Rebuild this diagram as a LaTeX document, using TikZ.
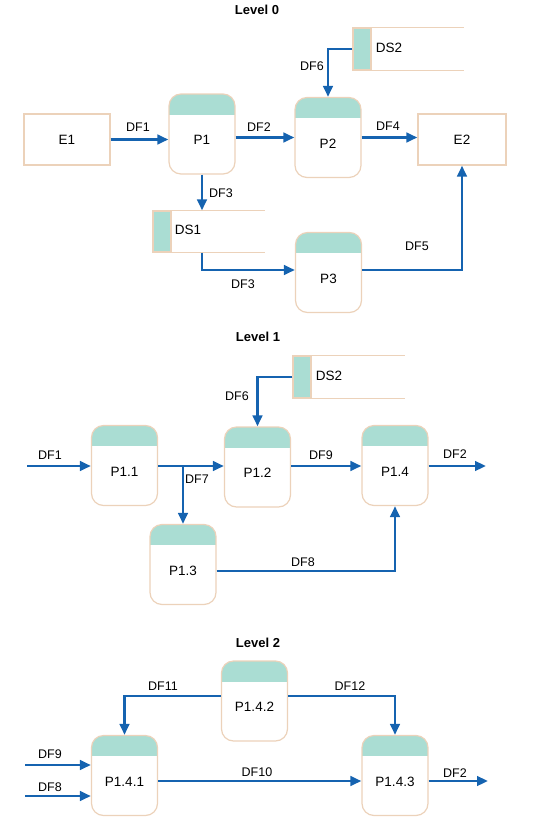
\documentclass[tikz,border=0pt]{standalone}
\usepackage{fontspec}
\setmainfont{Liberation Sans}
\usetikzlibrary{arrows.meta}
\definecolor{headc}{HTML}{AADDD3}
\definecolor{bordc}{HTML}{ECD2BA}
\definecolor{flowc}{HTML}{1563B0}
\tikzset{
  procbox/.style={draw=bordc, line width=1.2pt, rounded corners=12pt,
    minimum width=66pt, minimum height=80pt, inner sep=0pt, fill=white,
    path picture={\fill[headc, sharp corners] (path picture bounding box.north west) rectangle ([yshift=-20.5pt]path picture bounding box.north east);}},
  ptext/.style={font=\fontsize{13.5}{15}\selectfont, inner sep=0pt},
  lbl/.style={font=\fontsize{12.5}{14}\selectfont, inner sep=0pt},
  ttl/.style={font=\fontsize{13}{15}\selectfont\bfseries, inner sep=0pt},
  ent/.style={draw=bordc, line width=1.2pt, minimum height=51pt, inner sep=0pt, font=\fontsize{13.5}{15}\selectfont},
  dsbox/.style={draw=bordc, fill=headc, line width=1.2pt, minimum width=18pt, inner sep=0pt},
  bord/.style={draw=bordc, line width=1.2pt},
  flow/.style={draw=flowc, line width=2.7pt, -{Triangle[length=11pt,width=9.5pt]}}
}
\newcommand\procn[4]{\node[procbox] (#1) at (#2,#3) {};
  \node[ptext] (#1t) at ([yshift=-6pt]#1.center) {#4};}
\begin{document}
\begin{tikzpicture}[x=1pt,y=-1pt]
\useasboundingbox (0,0) rectangle (541,817);
% ---------------- Level 0
\node[ttl] (t0) at (257,10) {Level 0};
\node[ent, minimum width=86pt] (e1) at (67,139.5) {E1};
\node[ent, minimum width=88pt] (e2) at (462,139.5) {E2};
\procn{p1}{202}{134}{P1}
\procn{p2}{328}{137.5}{P2}
\procn{p3}{328.5}{272.5}{P3}
% DS2
\node[dsbox, minimum height=42pt] (ds2a) at (362,49) {};
\draw[bord] (ds2a.north east) -- +(92,0) (ds2a.south east) -- +(92,0);
\node[ptext] (ds2t) at (389,48) {DS2};
% DS1
\node[dsbox, minimum height=41pt] (ds1a) at (162,231.5) {};
\draw[bord] (ds1a.north east) -- +(93,0) (ds1a.south east) -- +(93,0);
\node[ptext] (ds1t) at (188,230) {DS1};
% flows
\draw[flow] (e1.east) -- (e1.east -| p1.west);
\draw[flow] (p2.west -| p1.east) -- (p2.west);
\draw[flow] (p2.east) -- (p2.east -| e2.west);
\draw[flow] (ds2a.west) -| (p2.north);
\draw[flow] (p1.south) -- (p1.south |- ds1a.north);
\draw[flow] (p1.south |- ds1a.south) |- ([yshift=2.5pt]p3.west);
\draw[flow] ([yshift=2.5pt]p3.east) -| (e2.south);
\node[lbl] (l01) at (138,127) {DF1};
\node[lbl] (l02) at (259,127) {DF2};
\node[lbl] (l04) at (388,126) {DF4};
\node[lbl] (l06) at (312,66) {DF6};
\node[lbl] (l03) at (221,193) {DF3};
\node[lbl] (l03b) at (243,284) {DF3};
\node[lbl] (l05) at (417,246) {DF5};
% ---------------- Level 1
\node[ttl] (t1) at (258,337) {Level 1};
\node[dsbox, minimum height=42pt] (ds2b) at (302,377) {};
\draw[bord] (ds2b.north east) -- +(93,0) (ds2b.south east) -- +(93,0);
\node[ptext] (ds2bt) at (329,376) {DS2};
\procn{p11}{124.5}{465.5}{P1.1}
\procn{p12}{257.5}{467}{P1.2}
\procn{p14}{395}{465.5}{P1.4}
\procn{p13}{183}{564.5}{P1.3}
\coordinate (in1) at (27,466);
\coordinate (out1) at (486,466);
\draw[flow] (in1) -- (in1 -| p11.west);
\draw[flow] ([yshift=-0.5pt]p11.east) -- ([yshift=-0.5pt]p11.east -| p12.west);
\draw[flow] ([yshift=-0.5pt]p11.east -| p13.north) -- (p13.north);
\draw[flow] (ds2b.west) -| (p12.north);
\draw[flow] ([yshift=-0.5pt]p14.west -| p12.east) -- ([yshift=-0.5pt]p14.west);
\draw[flow] ([yshift=-0.5pt]p14.east) -- (out1);
\draw[flow] ([yshift=-6.5pt]p13.east) -| (p14.south);
\node[lbl] (l11) at (50,455) {DF1};
\node[lbl] (l17) at (197,479) {DF7};
\node[lbl] (l19) at (321,455) {DF9};
\node[lbl] (l12) at (455,454) {DF2};
\node[lbl] (l16) at (237,396) {DF6};
\node[lbl] (l18) at (303,562) {DF8};
% ---------------- Level 2
\node[ttl] (t2) at (258,643) {Level 2};
\procn{p142}{254.5}{701}{P1.4.2}
\procn{p141}{124.5}{775.5}{P1.4.1}
\procn{p143}{395}{775.5}{P1.4.3}
\coordinate (in9) at (25,765);
\coordinate (in8) at (25,796);
\coordinate (out2) at (488,781);
\draw[flow] ([yshift=5pt]p142.west) -| (p141.north);
\draw[flow] ([yshift=5pt]p142.east) -| (p143.north);
\draw[flow] (in9) -- (in9 -| p141.west);
\draw[flow] (in8) -- (in8 -| p141.west);
\draw[flow] ([yshift=-5.5pt]p141.east) -- ([yshift=-5.5pt]p141.east -| p143.west);
\draw[flow] ([yshift=-5.5pt]p143.east) -- (out2);
\node[lbl] (l211) at (163,686) {DF11};
\node[lbl] (l212) at (350,686) {DF12};
\node[lbl] (l29) at (50,754) {DF9};
\node[lbl] (l28) at (50,787) {DF8};
\node[lbl] (l210) at (257,772) {DF10};
\node[lbl] (l22) at (455,773) {DF2};
\end{tikzpicture}
\end{document}
